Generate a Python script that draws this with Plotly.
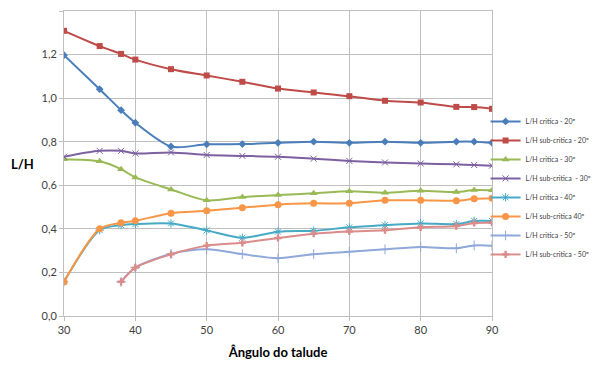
import plotly.graph_objects as go

x_all = [30, 35, 38, 40, 45, 50, 55, 60, 65, 70, 75, 80, 85, 87.5, 90]
x_50 = [38, 40, 45, 50, 55, 60, 65, 70, 75, 80, 85, 87.5, 90]

crit_20 = [1.197, 1.041, 0.945, 0.887, 0.778, 0.788, 0.789, 0.795, 0.800, 0.795, 0.800, 0.795, 0.800, 0.800, 0.795]
sub_20 = [1.309, 1.239, 1.203, 1.177, 1.133, 1.104, 1.075, 1.044, 1.026, 1.009, 0.988, 0.980, 0.960, 0.959, 0.951]
crit_30 = [0.720, 0.710, 0.674, 0.636, 0.581, 0.531, 0.546, 0.555, 0.563, 0.573, 0.566, 0.575, 0.569, 0.578, 0.577]
sub_30 = [0.731, 0.758, 0.758, 0.746, 0.751, 0.739, 0.735, 0.731, 0.722, 0.712, 0.705, 0.700, 0.696, 0.693, 0.690]
crit_40 = [0.157, 0.394, 0.417, 0.422, 0.425, 0.393, 0.359, 0.387, 0.391, 0.407, 0.417, 0.425, 0.422, 0.436, 0.436]
sub_40 = [0.157, 0.400, 0.428, 0.437, 0.472, 0.483, 0.497, 0.511, 0.517, 0.517, 0.531, 0.531, 0.529, 0.538, 0.541]
crit_50 = [0.157, 0.222, 0.285, 0.306, 0.284, 0.265, 0.284, 0.295, 0.306, 0.317, 0.311, 0.324, 0.323]
sub_50 = [0.157, 0.222, 0.283, 0.323, 0.336, 0.358, 0.378, 0.388, 0.394, 0.407, 0.413, 0.427, 0.428]

names = ["L/H critica - 20º", "L/H sub-critica - 20º", "L/H critica - 30º", "L/H sub-critica  - 30º",
         "L/H critica - 40º", "L/H sub-critica 40º", "L/H critica - 50º", "L/H sub-critica - 50º"]

series = [
    (x_all, crit_20, "#4A7EBB", "diamond", 6, 0),
    (x_all, sub_20, "#BE4B48", "square", 6, 0),
    (x_all, crit_30, "#98B954", "triangle-up", 7, 0),
    (x_all, sub_30, "#7D60A0", "x-thin", 6, 1),
    (x_all, crit_40, "#46AAC5", "asterisk", 7, 1),
    (x_all, sub_40, "#F79646", "circle", 7, 0),
    (x_50, crit_50, "#8EA8D9", "cross-thin", 7, 1),
    (x_50, sub_50, "#DA8C8A", "cross", 6, 0),
]

fig = go.Figure()
for (xs, ys, col, sym, sz, lw), nm in zip(series, names):
    fig.add_trace(go.Scatter(
        x=xs, y=ys, name=nm, mode="lines+markers",
        line=dict(color=col, width=2, shape="spline", smoothing=0.8),
        marker=dict(symbol=sym, size=sz, color=col, line=dict(color=col, width=lw)),
    ))

fig.update_layout(
    width=592, height=366,
    margin=dict(l=56, r=108, t=3, b=58, autoexpand=False),
    paper_bgcolor="white", plot_bgcolor="white",
    separators=",.",
    font=dict(family="Lato, Open Sans, sans-serif", size=11, color="#404040"),
    showlegend=True,
    legend=dict(x=0.985, y=0.42, xanchor="left", yanchor="middle",
                font=dict(size=7, color="#404040"), tracegroupgap=0, itemwidth=30,
                bgcolor="rgba(0,0,0,0)"),
    xaxis=dict(range=[30, 90], dtick=10, tick0=30, showgrid=True, gridcolor="#BFBFBF",
               showline=True, linecolor="#BFBFBF", mirror=True, ticks="outside", ticklen=4,
               tickcolor="#BFBFBF", zeroline=False,
               title=dict(text="<b>Ângulo do talude</b>", font=dict(size=13, color="black"), standoff=12)),
    yaxis=dict(range=[0, 1.4], dtick=0.2, tickformat=".1f", showgrid=True, gridcolor="#BFBFBF",
               showline=True, linecolor="#BFBFBF", mirror=True, ticks="outside", ticklen=4,
               tickcolor="#BFBFBF", zeroline=False),
    annotations=[dict(text="<b>L/H</b>", xref="paper", yref="paper", x=-0.098, y=0.5,
                      xanchor="center", yanchor="middle", showarrow=False,
                      font=dict(size=13, color="black"))],
)

fig.write_html("out.html")
